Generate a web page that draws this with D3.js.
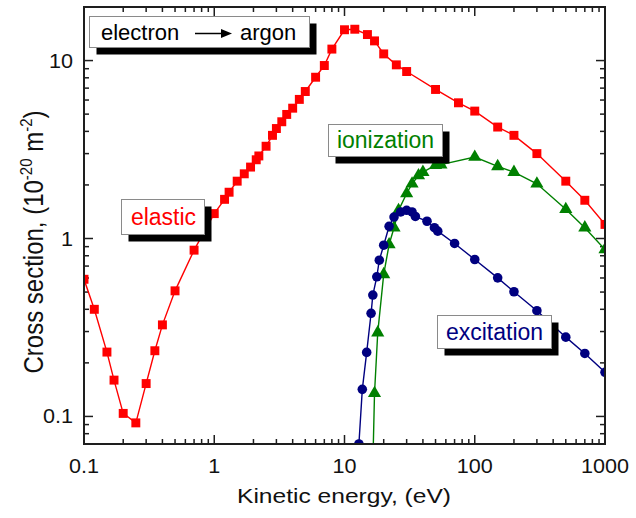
<!DOCTYPE html>
<html>
<head>
<meta charset="utf-8">
<script src="https://cdn.jsdelivr.net/npm/d3@7"></script>
<style>
  html, body { margin: 0; padding: 0; background: #fff; }
  svg { display: block; font-family: "Liberation Sans", Arial, sans-serif; }
</style>
</head>
<body>
<svg id="chart" width="636" height="518"></svg>
<script>
// Electron–argon cross sections (units of 1e-20 m^2) vs kinetic energy (eV)
const elasticE = [0.1, 0.12, 0.15, 0.17, 0.2, 0.25, 0.3, 0.35, 0.4, 0.5,
  0.7, 1.0, 1.2, 1.3, 1.5, 1.7, 1.9, 2.1, 2.2, 2.5,
  2.8, 3.0, 3.3, 3.6, 4.0, 4.5, 5.0, 6.0, 7.0, 8.0,
  10, 12, 15, 17, 20, 25, 30, 50, 75, 100,
  150, 200, 300, 500, 700, 1000];
const elasticS = [0.59, 0.40, 0.23, 0.16, 0.104, 0.092, 0.153, 0.234, 0.327, 0.508,
  0.86, 1.38, 1.66, 1.82, 2.10, 2.31, 2.52, 2.77, 2.91, 3.30,
  3.80, 4.15, 4.53, 4.98, 5.40, 6.05, 6.7, 8.06, 9.38, 11.6,
  14.9, 15.0, 14.0, 12.9, 10.9, 9.46, 8.68, 6.88, 5.79, 5.20,
  4.23, 3.80, 3.0, 2.10, 1.64, 1.20];

const ionizationE = [16, 17, 18, 20, 22, 24, 26, 30, 33, 37, 40, 50, 55,
  100, 150, 200, 300, 500, 700, 1000];
const ionizationS = [0.02, 0.135, 0.296, 0.628, 0.925, 1.15, 1.44, 1.79, 2.03, 2.26, 2.36, 2.58, 2.60,
  2.87, 2.54, 2.36, 2.03, 1.46, 1.15, 0.867];

const excitationE = [12.9, 13.7, 14.8, 16, 16.5, 17.7, 18.5, 20, 22, 24, 27, 30, 33, 35, 43, 49, 52,
  70, 100, 150, 200, 300, 500, 700, 1000];
const excitationS = [0.07, 0.142, 0.229, 0.380, 0.481, 0.609, 0.755, 0.917, 1.17, 1.32, 1.41, 1.44, 1.41, 1.33, 1.25, 1.15, 1.10,
  0.938, 0.762, 0.601, 0.502, 0.393, 0.279, 0.226, 0.177];

const xTickValues = [0.1, 1, 10, 100, 1000];
const xTickLabels = ["0.1", "1", "10", "100", "1000"];
const yTickValues = [0.1, 1, 10];
const yTickLabels = ["0.1", "1", "10"];

const W = 636, H = 518;
const margin = { left: 84, top: 7, right: 31, bottom: 74 };
const iw = W - margin.left - margin.right;
const ih = H - margin.top - margin.bottom;

const svg = d3.select("#chart");
const g = svg.append("g").attr("transform", `translate(${margin.left},${margin.top})`);

const x = d3.scaleLog().domain([0.1, 1000]).range([0, iw]);
const y = d3.scaleLog().domain([0.07, 20]).range([ih, 0]);

svg.append("defs").append("clipPath").attr("id", "plotClip")
  .append("rect").attr("x", 0).attr("y", 0).attr("width", iw).attr("height", ih);

// minor/major tick positions
function logTicks(lo, hi) {
  const out = [];
  for (let e = Math.floor(Math.log10(lo)) - 1; e <= Math.ceil(Math.log10(hi)); e++) {
    for (let m = 1; m <= 9; m++) {
      const v = m * Math.pow(10, e);
      if (v >= lo * 0.9999 && v <= hi * 1.0001) out.push({ v, major: m === 1 });
    }
  }
  return out;
}
const xT = logTicks(0.1, 1000);
const yT = logTicks(0.07, 20).filter(t => t.v < 19.9);

const tickColor = "#1e1e1e";
const majorLen = 9, minorLen = 5;

const axisG = g.append("g");
// bottom & top ticks (inward)
xT.forEach(t => {
  const px = x(t.v), L = t.major ? majorLen : minorLen;
  axisG.append("line").attr("x1", px).attr("x2", px).attr("y1", ih).attr("y2", ih - L)
    .attr("stroke", tickColor).attr("stroke-width", 1.5);
  axisG.append("line").attr("x1", px).attr("x2", px).attr("y1", 0).attr("y2", L)
    .attr("stroke", tickColor).attr("stroke-width", 1.5);
});
// left & right ticks (inward)
yT.forEach(t => {
  const py = y(t.v), L = t.major ? majorLen : minorLen;
  axisG.append("line").attr("x1", 0).attr("x2", L).attr("y1", py).attr("y2", py)
    .attr("stroke", tickColor).attr("stroke-width", 1.5);
  axisG.append("line").attr("x1", iw).attr("x2", iw - L).attr("y1", py).attr("y2", py)
    .attr("stroke", tickColor).attr("stroke-width", 1.5);
});

// tick labels (slightly widened glyphs)
xTickValues.forEach((v, i) => {
  g.append("text").attr("transform", `translate(${x(v)},${ih + 29}) scale(1.08,1)`)
    .attr("text-anchor", "middle").attr("font-size", 20).attr("fill", "#111")
    .text(xTickLabels[i]);
});
yTickValues.forEach((v, i) => {
  g.append("text").attr("transform", `translate(-11,${y(v) + 7}) scale(1.08,1)`)
    .attr("text-anchor", "end").attr("font-size", 20).attr("fill", "#111")
    .text(yTickLabels[i]);
});

// axis titles
svg.append("text").attr("x", 344).attr("y", 503)
  .attr("text-anchor", "middle").attr("font-size", 21).attr("fill", "#111")
  .attr("textLength", 214).attr("lengthAdjust", "spacingAndGlyphs")
  .text("Kinetic energy, (eV)");

const yTitle = svg.append("text")
  .attr("transform", "translate(43,242) rotate(-90) scale(1,1.12)")
  .attr("text-anchor", "middle").attr("font-size", 24).attr("fill", "#111");
yTitle.append("tspan").text("Cross section, (10");
yTitle.append("tspan").attr("font-size", 15).attr("dy", -10).text("-20");
yTitle.append("tspan").attr("dy", 10).text(" m");
yTitle.append("tspan").attr("font-size", 15).attr("dy", -10).text("-2");
yTitle.append("tspan").attr("dy", 10).text(")");

// series
const series = [
  { E: elasticE, S: elasticS, color: "#ff0000", marker: "square" },
  { E: ionizationE, S: ionizationS, color: "#008000", marker: "triangle" },
  { E: excitationE, S: excitationS, color: "#000080", marker: "circle" }
];

const plot = g.append("g").attr("clip-path", "url(#plotClip)");
const line = d3.line().x(d => x(d[0])).y(d => y(d[1]));
const symbols = {
  square: d3.symbol().type(d3.symbolSquare).size(80),
  triangle: d3.symbol().type(d3.symbolTriangle).size(75),
  circle: d3.symbol().type(d3.symbolCircle).size(72)
};

series.forEach(s => {
  const pts = s.E.map((e, i) => [e, s.S[i]]);
  plot.append("path").datum(pts).attr("d", line)
    .attr("fill", "none").attr("stroke", s.color).attr("stroke-width", 1.4);
  plot.selectAll(null).data(pts).enter().append("path")
    .attr("transform", d => `translate(${x(d[0])},${y(d[1])})`)
    .attr("d", symbols[s.marker]).attr("fill", s.color);
});

// frame
g.append("rect").attr("x", 0).attr("y", 0).attr("width", iw).attr("height", ih)
  .attr("fill", "none").attr("stroke", tickColor).attr("stroke-width", 2);

// annotation boxes with drop shadow
function labelBox(bx, by, bw, bh) {
  svg.append("rect").attr("x", bx + 7).attr("y", by + 7).attr("width", bw).attr("height", bh)
    .attr("fill", "#000");
  svg.append("rect").attr("x", bx).attr("y", by).attr("width", bw).attr("height", bh)
    .attr("fill", "#fff").attr("stroke", "#8a8a8a").attr("stroke-width", 1);
}

labelBox(89.5, 16.5, 220, 31);
svg.append("text").attr("x", 101).attr("y", 40).attr("font-size", 22).attr("fill", "#000").text("electron");
svg.append("text").attr("x", 240).attr("y", 40).attr("font-size", 22).attr("fill", "#000").text("argon");
svg.append("line").attr("x1", 195).attr("x2", 223).attr("y1", 33.5).attr("y2", 33.5)
  .attr("stroke", "#000").attr("stroke-width", 1.5);
svg.append("path").attr("d", "M221,29 L232,33.5 L221,38 Z").attr("fill", "#000");

labelBox(121.5, 199.5, 83, 35);
svg.append("text").attr("x", 163.5).attr("y", 225).attr("text-anchor", "middle")
  .attr("font-size", 23).attr("fill", "#ff0000").text("elastic");

labelBox(328.5, 124.5, 114, 32);
svg.append("text").attr("x", 385.5).attr("y", 148).attr("text-anchor", "middle")
  .attr("font-size", 23).attr("fill", "#008000").text("ionization");

labelBox(437.5, 315.5, 114, 33);
svg.append("text").attr("x", 494.5).attr("y", 340).attr("text-anchor", "middle")
  .attr("font-size", 23).attr("fill", "#000080").text("excitation");
</script>
</body>
</html>
